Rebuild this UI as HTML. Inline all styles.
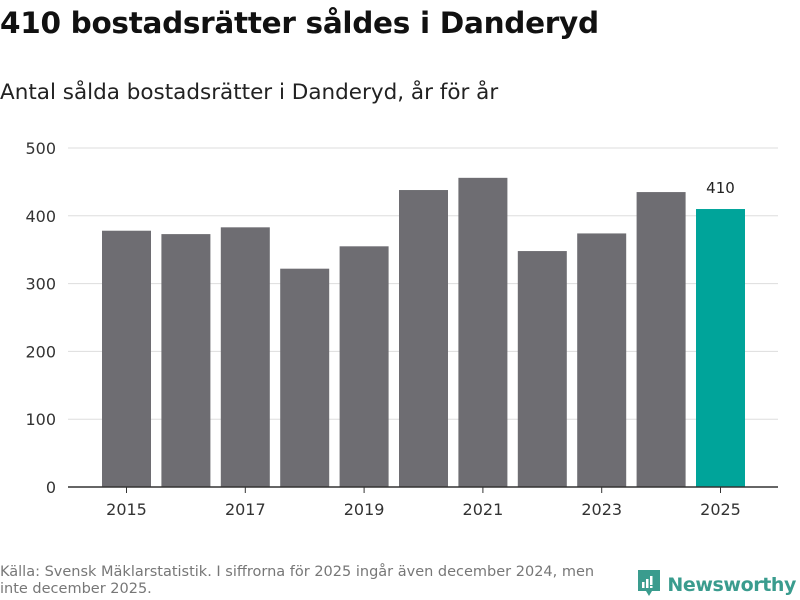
<!DOCTYPE html>
<html><head><meta charset="utf-8"><style>
body{margin:0;width:800px;height:600px;background:#fff;font-family:"DejaVu Sans","Liberation Sans",sans-serif;overflow:hidden;position:relative}
h1{position:absolute;left:0;top:6px;margin:0;font-size:29.5px;font-weight:bold;color:#111;letter-spacing:-0.3px;white-space:nowrap}
.sub{position:absolute;left:0;top:80px;font-size:21.5px;color:#222;white-space:nowrap}
.src{position:absolute;left:0;top:564px;font-size:14.5px;color:#777;width:660px;line-height:17px;white-space:nowrap}
.logo{position:absolute;right:4px;top:569px;font-size:19px;font-weight:bold;color:#3a9c8e;white-space:nowrap;letter-spacing:-0.4px}
</style></head><body>
<h1>410 bostadsrätter såldes i Danderyd</h1>
<div class="sub">Antal sålda bostadsrätter i Danderyd, år för år</div>
<svg id="c" width="800" height="600" style="position:absolute;left:0;top:0"></svg>
<div class="src">Källa: Svensk Mäklarstatistik. I siffrorna för 2025 ingår även december 2024, men<br>inte december 2025.</div>
<div class="logo"><svg width="24" height="30" viewBox="0 0 24 30" style="vertical-align:-8px"><path d="M1 1h22v21h-8l-3 5-3-5H1z" fill="#3a9c8e"/><rect x="5" y="13" width="2.5" height="6" fill="#fff"/><rect x="9" y="10" width="2.5" height="9" fill="#fff"/><rect x="13" y="7" width="2.5" height="9" fill="#fff"/><rect x="13" y="17" width="2.5" height="2" fill="#fff"/></svg> Newsworthy</div>
<script>
const years=[2015,2016,2017,2018,2019,2020,2021,2022,2023,2024,2025];
const values=[378,373,383,322,355,438,456,348,374,435,410];
const yTicks=[0,100,200,300,400,500];
const xLabels=[2015,2017,2019,2021,2023,2025];
const svg=document.getElementById('c');const NS='http://www.w3.org/2000/svg';
const y=v=>487-v*0.678;
const x=i=>126.5+i*59.4;
function mk(t,a){const e=document.createElementNS(NS,t);for(const k in a)e.setAttribute(k,a[k]);svg.appendChild(e);return e;}
yTicks.forEach(t=>{
 if(t>0){const l=mk('line',{x1:68,x2:778,y1:y(t),y2:y(t),stroke:'#ddd','stroke-width':1});
 
 }
 const tx=mk('text',{x:56,y:y(t)+6,'text-anchor':'end','font-size':16,fill:'#333'});tx.textContent=t;
 
 
});
values.forEach((v,i)=>{
 const last=i===values.length-1;
 const r=mk('rect',{x:x(i)-24.5,y:y(v),width:49,height:487-y(v),fill:last?'#00a49a':'#6e6d72'});
 
 
 if(last){const t=mk('text',{x:x(i),y:y(v)-16,'text-anchor':'middle','font-size':15,fill:'#222'});t.textContent=v;
 
 }
});
const ax=mk('line',{x1:68,x2:778,y1:487,y2:487,stroke:'#333','stroke-width':1.5});


xLabels.forEach(yr=>{const i=years.indexOf(yr);
 const tk=mk('line',{x1:x(i),x2:x(i),y1:487,y2:493,stroke:'#333'});
 
 
 const t=mk('text',{x:x(i),y:515,'text-anchor':'middle','font-size':16,fill:'#333'});t.textContent=yr;
 
 
});
</script>
</body></html>
